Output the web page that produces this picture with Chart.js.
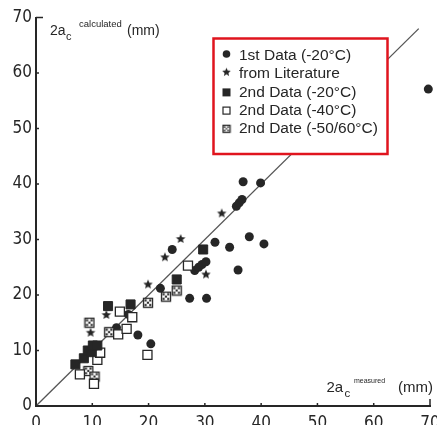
<!DOCTYPE html>
<html><head><meta charset="utf-8">
<script src="https://cdn.jsdelivr.net/npm/chart.js@4/dist/chart.umd.min.js"></script>
<style>html,body{margin:0;padding:0;overflow:hidden;background:#fff}#wrap{position:relative;width:450px;height:440px}</style>
</head><body><div id="wrap"><canvas id="c"></canvas></div>
<script>
// ---- data ----
const tickValues = [0, 10, 20, 30, 40, 50, 60, 70];
const firstDataX = [14.3, 16.4, 18.1, 20.4, 22.1, 24.2, 27.3, 30.3, 28.2, 28.9, 29.5, 30.2, 31.8, 34.4, 35.9, 37.9, 40.5, 35.6, 36.1, 36.6, 36.8, 39.9, 69.7];
const firstDataY = [14.1, 16.5, 12.8, 11.2, 21.2, 28.2, 19.4, 19.4, 24.4, 25.0, 25.5, 26.0, 29.5, 28.6, 24.5, 30.5, 29.2, 36.0, 36.6, 37.2, 40.4, 40.2, 57.1];
const literatureX = [9.7, 12.5, 19.9, 22.9, 25.7, 30.2, 33.0];
const literatureY = [13.2, 16.4, 21.9, 26.8, 30.1, 23.7, 34.7];
const second20X = [7.0, 8.5, 9.2, 9.9, 10.1, 10.9, 12.8, 16.8, 25.0, 29.7];
const second20Y = [7.5, 8.6, 10.0, 9.7, 10.9, 10.9, 18.0, 18.3, 22.8, 28.2];
const second40X = [7.8, 10.3, 10.9, 11.4, 14.6, 16.1, 14.9, 17.1, 19.8, 27.0];
const second40Y = [5.7, 4.0, 8.3, 9.6, 12.9, 13.9, 17.0, 16.0, 9.2, 25.3];
const second50X = [9.5, 9.3, 10.4, 13.0, 19.9, 23.1, 25.0];
const second50Y = [15.0, 6.3, 5.3, 13.3, 18.6, 19.7, 20.8];
const refLineX = [0, 68];
const refLineY = [0, 68];
const legendLabels = ['1st Data (-20°C)', 'from Literature', '2nd Data (-20°C)', '2nd Data (-40°C)', '2nd Date (-50/60°C)'];

// ---- styling ----
const INK = '#262626';
function pts(xs, ys) { return xs.map((x, i) => ({ x: x, y: ys[i] })); }

function makeStar(r) {
  const s = Math.ceil(2 * r + 2), c = document.createElement('canvas');
  c.width = s; c.height = s;
  const g = c.getContext('2d'); g.fillStyle = INK; g.beginPath();
  for (let i = 0; i < 10; i++) {
    const rr = i % 2 ? r * 0.45 : r, a = -Math.PI / 2 + i * Math.PI / 5;
    const px = s / 2 + rr * Math.cos(a), py = s / 2 + rr * Math.sin(a);
    i ? g.lineTo(px, py) : g.moveTo(px, py);
  }
  g.closePath(); g.fill();
  return c;
}
function makeCrossSquare(side) {
  const s = side + 2, c = document.createElement('canvas');
  c.width = s; c.height = s;
  const g = c.getContext('2d');
  g.fillStyle = '#fff'; g.fillRect(1, 1, side, side);
  g.strokeStyle = INK; g.lineWidth = 1.3; g.strokeRect(1.5, 1.5, side - 1, side - 1);
  g.fillStyle = INK;
  const cell = (side - 3) / 3;
  [[0, 0], [2, 0], [1, 1], [0, 2], [2, 2]].forEach(([i, j]) => {
    g.fillRect(2.5 + i * cell, 2.5 + j * cell, cell * 0.9, cell * 0.9);
  });
  return c;
}
const starImg = makeStar(5);
const crossImg = makeCrossSquare(10);
const starLeg = makeStar(4.5);
const crossLeg = makeCrossSquare(8);

const tickFont = { family: "'Liberation Sans Narrow','DejaVu Sans Condensed',sans-serif", size: 17 };

// ---- plugins ----
const axisDecor = {
  id: 'axisDecor',
  afterDraw(chart) {
    const { ctx, scales: { x, y } } = chart;
    ctx.save();
    ctx.strokeStyle = INK; ctx.lineWidth = 1.5;
    tickValues.forEach(v => {
      const len = v === 70 ? 7 : 3;
      const px = x.getPixelForValue(v);
      ctx.beginPath(); ctx.moveTo(px, x.top); ctx.lineTo(px, x.top - len); ctx.stroke();
      const py = y.getPixelForValue(v);
      ctx.beginPath(); ctx.moveTo(y.right, py); ctx.lineTo(y.right + len, py); ctx.stroke();
    });
    // axis titles
    ctx.fillStyle = INK; ctx.textBaseline = 'alphabetic'; ctx.textAlign = 'left';
    const F = 'Liberation Sans, Arial, sans-serif';
    // top-left title
    ctx.font = '14px ' + F; ctx.fillText('2a', 50, 35);
    ctx.font = '11px ' + F; ctx.fillText('c', 66, 39.5);
    ctx.font = '9.5px ' + F; ctx.fillText('calculated', 79, 27);
    ctx.font = '14px ' + F; ctx.fillText('(mm)', 127, 35);
    // bottom-right title
    ctx.font = '15px ' + F; ctx.fillText('2a', 326.5, 391.5);
    ctx.font = '11.5px ' + F; ctx.fillText('c', 344.5, 396.5);
    ctx.font = '7px ' + F; ctx.fillText('measured', 354, 383);
    ctx.font = '15px ' + F; ctx.fillText('(mm)', 398, 392);

    // legend box
    const bx = 213.5, by = 38.5, bw = 174, bh = 115.5;
    ctx.fillStyle = '#fff'; ctx.fillRect(bx, by, bw, bh);
    ctx.strokeStyle = '#e0141e'; ctx.lineWidth = 2.5; ctx.strokeRect(bx, by, bw, bh);
    ctx.font = '15.5px ' + F; ctx.textBaseline = 'middle';
    legendLabels.forEach((lab, i) => {
      const ry = 56 + i * 18.2, mx = 226.5;
      ctx.fillStyle = INK; ctx.strokeStyle = INK; ctx.lineWidth = 1.2;
      if (i === 0) { ctx.beginPath(); ctx.arc(mx, ry - 2, 3.8, 0, Math.PI * 2); ctx.fill(); }
      else if (i === 1) { ctx.drawImage(starLeg, mx - starLeg.width / 2, ry - 2 - starLeg.height / 2); }
      else if (i === 2) { ctx.fillRect(mx - 4, ry - 4, 8, 8); }
      else if (i === 3) { ctx.fillStyle = '#fff'; ctx.fillRect(mx - 4, ry - 4, 8, 8); ctx.strokeRect(mx - 3.5, ry - 3.5, 7, 7); }
      else { ctx.drawImage(crossLeg, mx - crossLeg.width / 2, ry - crossLeg.height / 2); }
      ctx.fillStyle = INK; ctx.fillText(lab, 239, ry);
    });
    ctx.restore();
  }
};

new Chart(document.getElementById('c'), {
  type: 'scatter',
  data: {
    datasets: [
      { label: legendLabels[2], data: pts(second20X, second20Y), pointStyle: 'rect', pointRadius: 6.4, backgroundColor: INK, borderColor: INK, borderWidth: 1, clip: false },
      { label: legendLabels[3], data: pts(second40X, second40Y), pointStyle: 'rect', pointRadius: 6.4, backgroundColor: '#fff', borderColor: INK, borderWidth: 1.3, clip: false },
      { label: legendLabels[4], data: pts(second50X, second50Y), pointStyle: crossImg, pointRadius: 6, clip: false },
      { label: legendLabels[1], data: pts(literatureX, literatureY), pointStyle: starImg, pointRadius: 5, clip: false },
      { label: legendLabels[0], data: pts(firstDataX, firstDataY), pointStyle: 'circle', pointRadius: 4.5, backgroundColor: INK, borderColor: INK, borderWidth: 0, clip: false },
      { type: 'line', label: 'y = x', data: pts(refLineX, refLineY), borderColor: '#555', borderWidth: 1.3, pointRadius: 0, fill: false, order: 10 }
    ]
  },
  options: {
    responsive: true, maintainAspectRatio: false, animation: false,
    layout: { padding: { top: 17.5, right: 20, left: 0, bottom: 0 } },
    plugins: { legend: { display: false }, tooltip: { enabled: false } },
    scales: {
      x: {
        type: 'linear', min: 0, max: 70,
        afterBuildTicks: s => { s.ticks = tickValues.map(v => ({ value: v })); },
        afterFit: s => { s.height = 34; },
        grid: { display: false, drawTicks: false },
        border: { display: true, color: INK, width: 2 },
        ticks: { padding: 7, font: tickFont, color: INK, maxRotation: 0, autoSkip: false }
      },
      y: {
        type: 'linear', min: 0, max: 70,
        afterBuildTicks: s => { s.ticks = tickValues.map(v => ({ value: v })); },
        afterFit: s => { s.width = 36; },
        grid: { display: false, drawTicks: false },
        border: { display: true, color: INK, width: 2 },
        ticks: { padding: 4, font: tickFont, color: INK, autoSkip: false }
      }
    }
  },
  plugins: [axisDecor]
});
</script></body></html>
